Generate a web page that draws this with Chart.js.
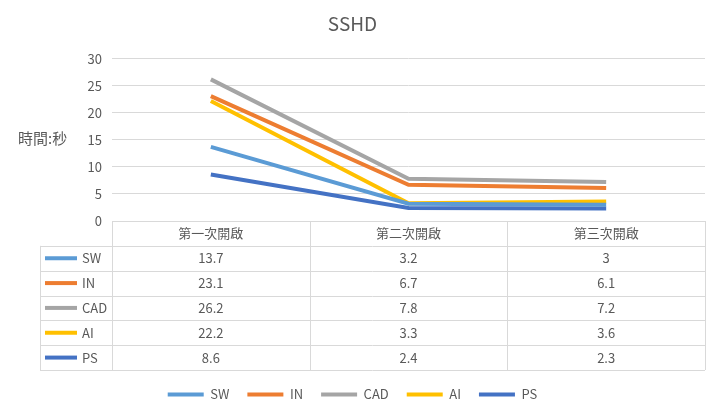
<!DOCTYPE html>
<html>
<head>
<meta charset="utf-8">
<script src="https://cdn.jsdelivr.net/npm/chart.js@4"></script>
<style>
  body { margin: 0; background: #fff; }
  #wrap { width: 720px; height: 417px; }
</style>
</head>
<body>
<div id="wrap"><canvas id="c" width="720" height="417"></canvas></div>
<script>
const categories = ['第一次開啟', '第二次開啟', '第三次開啟'];
const seriesNames = ['SW', 'IN', 'CAD', 'AI', 'PS'];
const sw = [13.7, 3.2, 3];
const inn = [23.1, 6.7, 6.1];
const cad = [26.2, 7.8, 7.2];
const ai = [22.2, 3.3, 3.6];
const ps = [8.6, 2.4, 2.3];
const colors = ['#5B9BD5', '#ED7D31', '#A5A5A5', '#FFC000', '#4472C4'];
const yTicks = [0, 5, 10, 15, 20, 25, 30];

const values = [sw, inn, cad, ai, ps];
const FONT = '"Microsoft JhengHei", "Noto Sans CJK TC", "Liberation Sans", sans-serif';
const TEXT = '#595959';
const GRID = '#d9d9d9';

// Data table under the plot, drawn in the x axis area
const tablePlugin = {
  id: 'table',
  afterDraw(chart) {
    const ctx = chart.ctx, x = chart.scales.x, area = chart.chartArea;
    const top = x.top, bottom = x.bottom;
    const rowH = (bottom - top) / (seriesNames.length + 1);
    const colW = x.getPixelForValue(1) - x.getPixelForValue(0);
    const leftCol = 40;
    ctx.save();
    ctx.strokeStyle = GRID;
    ctx.lineWidth = 1;
    ctx.beginPath();
    // verticals
    for (let i = 0; i <= categories.length; i++) {
      const px = Math.round(x.getPixelForValue(i) - colW / 2) + 0.5;
      ctx.moveTo(px, top); ctx.lineTo(px, bottom);
    }
    ctx.moveTo(leftCol + 0.5, top + rowH); ctx.lineTo(leftCol + 0.5, bottom);
    // horizontals
    for (let r = 1; r <= seriesNames.length + 1; r++) {
      const py = Math.round(top + r * rowH) + 0.5;
      ctx.moveTo(leftCol, py); ctx.lineTo(area.right, py);
    }
    ctx.stroke();

    ctx.font = '13px ' + FONT;
    ctx.fillStyle = TEXT;
    ctx.textAlign = 'center';
    ctx.textBaseline = 'middle';
    categories.forEach((c, i) => ctx.fillText(c, x.getPixelForValue(i), top + rowH / 2));
    seriesNames.forEach((name, s) => {
      const cy = top + (s + 1.5) * rowH;
      ctx.strokeStyle = colors[s];
      ctx.lineWidth = 4;
      ctx.beginPath();
      ctx.moveTo(45, cy); ctx.lineTo(77, cy);
      ctx.stroke();
      ctx.textAlign = 'left';
      ctx.fillText(name, 82, cy);
      ctx.textAlign = 'center';
      values[s].forEach((v, i) => ctx.fillText(String(v), x.getPixelForValue(i), cy));
    });

    // y axis title
    ctx.font = '15px ' + FONT;
    ctx.textAlign = 'left';
    ctx.fillText('時間:秒', 18, 138);
    ctx.restore();
  }
};

new Chart(document.getElementById('c'), {
  type: 'line',
  data: {
    labels: categories,
    datasets: seriesNames.map((n, s) => ({
      label: n,
      data: values[s],
      borderColor: colors[s],
      backgroundColor: colors[s],
      borderWidth: 4,
      pointRadius: 0,
      tension: 0
    }))
  },
  options: {
    responsive: false,
    animation: false,
    layout: { padding: { left: 0, right: 15, top: 0, bottom: 6 } },
    plugins: {
      title: {
        display: true, text: 'SSHD', color: TEXT,
        font: { family: FONT, size: 19, weight: 'normal' }, padding: { top: 12, bottom: 24 }
      },
      legend: {
        position: 'bottom',
        labels: {
          usePointStyle: true, pointStyle: 'line', pointStyleWidth: 36,
          color: TEXT, font: { family: FONT, size: 13 }, padding: 18
        }
      },
      tooltip: { enabled: false }
    },
    scales: {
      x: {
        offset: true,
        grid: { display: false },
        border: { display: false },
        ticks: { display: false },
        afterFit(s) { s.height = 149; }
      },
      y: {
        min: yTicks[0], max: yTicks[yTicks.length - 1],
        afterBuildTicks(s) { s.ticks = yTicks.map(v => ({ value: v })); },
        grid: { color: GRID, drawTicks: false },
        border: { display: false },
        ticks: { color: TEXT, font: { family: FONT, size: 13 }, padding: 10 },
        afterFit(s) { s.width = 112; }
      }
    }
  },
  plugins: [tablePlugin]
});
</script>
</body>
</html>
